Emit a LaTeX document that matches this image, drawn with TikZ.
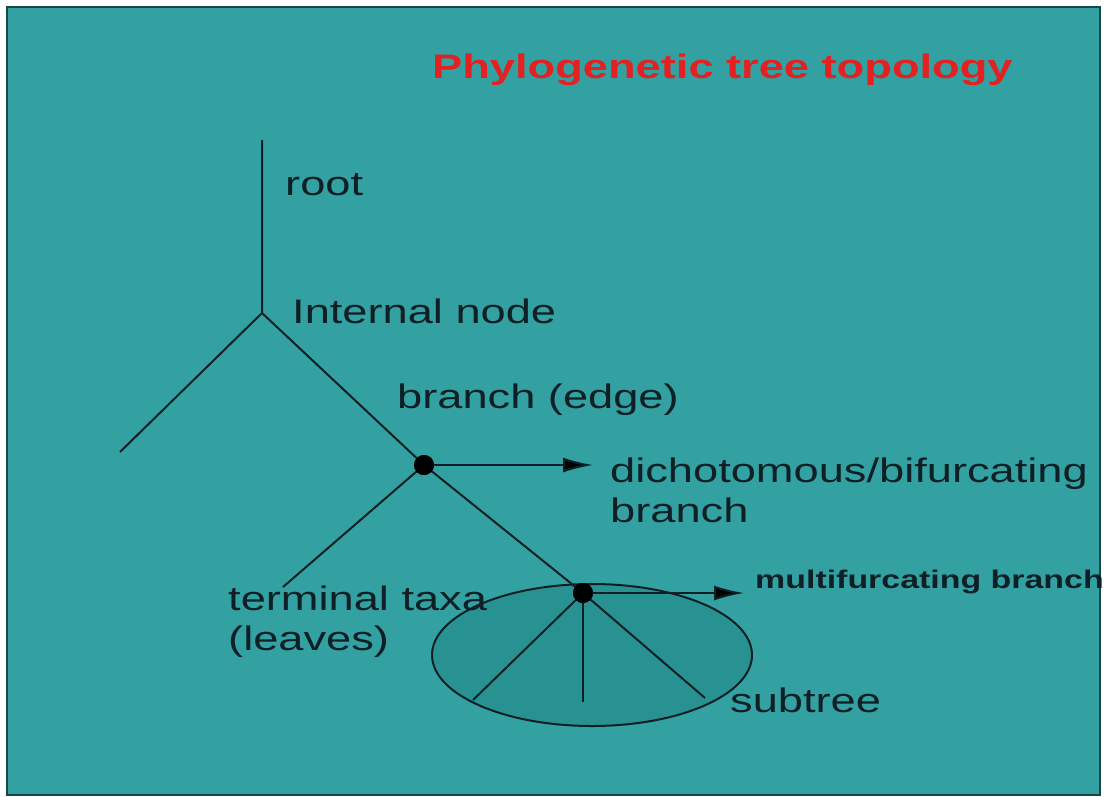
\documentclass[tikz,border=0pt]{standalone}
\usepackage{fontspec}
\setmainfont{Liberation Sans}[FakeStretch=1.33]
\usetikzlibrary{arrows.meta}
\definecolor{slidebg}{RGB}{51,161,161}
\definecolor{subbg}{RGB}{40,146,147}
\definecolor{inkc}{RGB}{14,32,38}
\definecolor{titlered}{RGB}{226,34,34}

\begin{document}
\begin{tikzpicture}[x=1pt,y=-1pt,
  every node/.style={text=inkc, font=\fontsize{34}{40}\selectfont},
  lbl/.style={anchor=base west, inner sep=0pt, align=left},
  edge/.style={draw=inkc, line width=2pt},
  dot/.style={circle, fill=black, inner sep=0pt, minimum size=20pt},
  pointer/.style={edge, -{Latex[length=30pt,width=15pt,fill=black]}}]
% slide
\fill[white] (0,0) rectangle (1114,796);
\draw[fill=slidebg, draw=black!55!slidebg, line width=1.5pt] (7,7) rectangle (1100,795);
\node[lbl, text=titlered, font=\fontsize{34}{40}\selectfont\bfseries] (title) at (432,78) {Phylogenetic tree topology};

% subtree
\draw[fill=subbg, edge] (592,655) ellipse [x radius=160, y radius=71];

% tree
\coordinate (top) at (262,140);
\coordinate (inode) at (262,313);
\coordinate (leafA) at (120,452);
\coordinate (leafB) at (283,587);
\coordinate (subA) at (473,700);
\coordinate (subB) at (583,702);
\coordinate (subC) at (705,698);
\node[dot] (bif) at (424,465) {};
\node[dot] (multi) at (583,593) {};
\draw[edge] (top) -- (inode) -- (leafA);
\draw[edge] (inode) -- (bif.center) -- (multi.center);
\draw[edge] (bif.center) -- (leafB);
\foreach \s in {subA,subB,subC}
  \draw[edge] (multi.center) -- (\s);
\node[dot] at (bif) {};
\node[dot] at (multi) {};

% pointers
\coordinate (bifTip) at (593,465);
\coordinate (multiTip) at (744,593);
\draw[pointer] (bif) -- (bifTip);
\draw[pointer] (multi) -- (multiTip);

% labels
\node[lbl] (rootL) at (285,195) {root};
\node[lbl] (inodeL) at (292,323) {Internal node};
\node[lbl] (edgeL) at (397,408) {branch (edge)};
\node[lbl] (bifL) at (610,522) {dichotomous/bifurcating\\branch};
\node[lbl, font=\fontsize{25.5}{30}\selectfont\bfseries] (multiL) at (755,588) {multifurcating branch};
\node[lbl] (leafL) at (228,650) {terminal taxa\\(leaves)};
\node[lbl] (subL) at (730,712) {subtree};
\end{tikzpicture}
\end{document}
